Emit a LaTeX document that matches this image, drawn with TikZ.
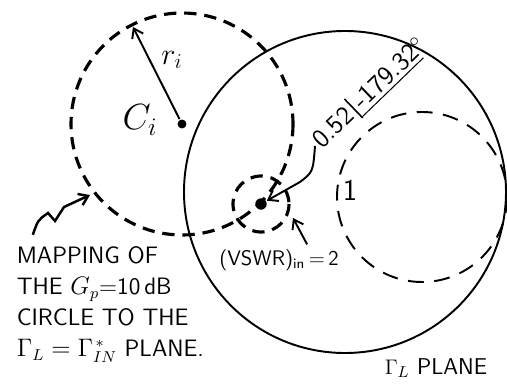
\documentclass[tikz,border=0pt]{standalone}
\usepackage{amsmath}
\usetikzlibrary{arrows.meta}
\begin{document}
\begin{tikzpicture}[x=0.02cm,y=-0.02cm,line width=1.1pt,font=\sffamily,
  heavydash/.style={line width=1.8pt,dash pattern=on 7pt off 4.5pt},
  lightdash/.style={line width=1.1pt,dash pattern=on 9pt off 6pt},
  barb/.style={-{Straight Barb[length=5pt,width=7pt]}},
  dot/.style={circle,fill,inner sep=1.8pt}]
\useasboundingbox (0,0) rectangle (507,391);
\coordinate (plane) at (345,192);\coordinate (unit) at (422,197);
\coordinate (gp) at (182,124);\coordinate (vswr) at (261,204);
\draw (plane) circle[radius=161];\draw[lightdash] (unit) circle[radius=85];
\draw[heavydash] (gp) circle[radius=111];\draw[heavydash] (vswr) circle[radius=28];
\node[dot] (ci) at (gp) {};\node[dot,inner sep=2.3pt] (match) at (vswr) {};
\coordinate (ritip) at (133,27);\coordinate (mapend) at (90,195);\coordinate (vswrtip) at (293,218);
\draw[barb] (ci) -- (ritip);
\node (ri) at (172,60) {\LARGE$r_i$};\node (cilab) at (140,120) {\huge$C_i$};
\node (one) at (350,190) {\LARGE 1};
\node[anchor=west,rotate=44,inner sep=1pt] (polar) at (315,146)
  {\fontsize{15}{17}\selectfont 0.52\,\vrule width .9pt height 12pt depth 3pt\underline{\,-179.32}$^{\circ}$};
\draw[barb] (polar.west) .. controls (313,172) .. (300,182) -- (match);
\node (vswrlab) at (279,260) {\large(VSWR)$_{\text{in}}$\,=\,2};
\draw[barb] ([xshift=16pt,yshift=-1pt]vswrlab.north) -- (vswrtip);
\node[align=left,anchor=north west,font=\sffamily\fontsize{13.5}{17.6}\selectfont] (map) at (10,240)
  {MAPPING OF\\THE $G_p$=10\,dB\\CIRCLE TO THE\\$\Gamma_L=\Gamma_{IN}^{\,*}$ PLANE.};
\draw[barb,line width=1.4pt] ([xshift=13pt,yshift=3pt]map.north west) .. controls (38,220) .. (48,213)
  -- (55,221) -- (64,207) -- (mapend);
\node (planelab) at (436,368) {\fontsize{13}{15}\selectfont$\Gamma_L$ PLANE};
\end{tikzpicture}
\end{document}
